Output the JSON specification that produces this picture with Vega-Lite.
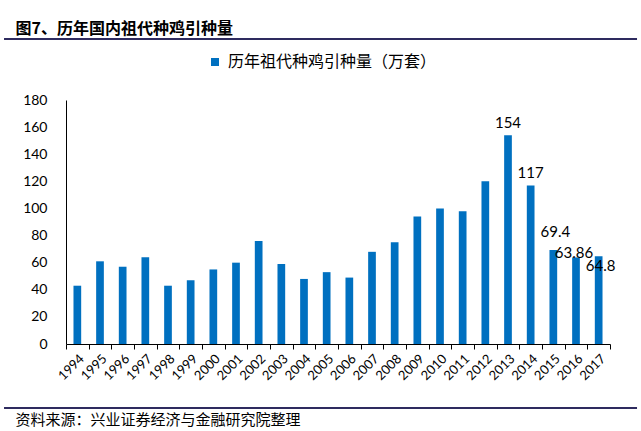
{
  "$schema": "https://vega.github.io/schema/vega-lite/v6.json",
  "autosize": "none",
  "width": 544,
  "height": 244,
  "padding": {"left": 66, "top": 100, "right": 31, "bottom": 87},
  "background": "white",
  "data": {
    "values": [
      {"year": "1994", "v": 43},
      {"year": "1995", "v": 61},
      {"year": "1996", "v": 57},
      {"year": "1997", "v": 64},
      {"year": "1998", "v": 43},
      {"year": "1999", "v": 47},
      {"year": "2000", "v": 55},
      {"year": "2001", "v": 60},
      {"year": "2002", "v": 76},
      {"year": "2003", "v": 59},
      {"year": "2004", "v": 48},
      {"year": "2005", "v": 53},
      {"year": "2006", "v": 49},
      {"year": "2007", "v": 68},
      {"year": "2008", "v": 75},
      {"year": "2009", "v": 94},
      {"year": "2010", "v": 100},
      {"year": "2011", "v": 98},
      {"year": "2012", "v": 120},
      {"year": "2013", "v": 154},
      {"year": "2014", "v": 117},
      {"year": "2015", "v": 69.4},
      {"year": "2016", "v": 63.86},
      {"year": "2017", "v": 64.8}
    ]
  },
  "layer": [
    {
      "encoding": {
        "x": {
          "field": "year",
          "type": "nominal",
          "scale": {"paddingInner": 0, "paddingOuter": 0},
          "axis": {
            "title": "资料来源：兴业证券经济与金融研究院整理",
            "titleFont": "Noto Sans CJK SC",
            "titleFontSize": 15,
            "titleFontWeight": "normal",
            "titleColor": "#000000",
            "titleAnchor": "start",
            "titleAlign": "left",
            "titleBaseline": "middle",
            "titleX": -51,
            "titleY": 75,
            "labelAngle": -45,
            "labelFont": "Lato",
            "labelFontSize": 13,
            "labelColor": "#000000",
            "labelPadding": 3,
            "tickBand": "extent",
            "tickSize": 5,
            "tickColor": "#000000",
            "domainColor": "#000000",
            "grid": false
          }
        },
        "y": {
          "field": "v",
          "type": "quantitative",
          "scale": {"domain": [0, 180], "nice": false},
          "axis": {
            "title": "图7、历年国内祖代种鸡引种量",
            "titleFont": "Noto Sans CJK SC",
            "titleFontSize": 16,
            "titleFontWeight": "bold",
            "titleColor": "#000000",
            "titleAngle": 0,
            "titleAlign": "left",
            "titleBaseline": "middle",
            "titleX": -51,
            "titleY": -72,
            "values": [0, 20, 40, 60, 80, 100, 120, 140, 160, 180],
            "labelOverlap": false,
            "ticks": false,
            "labelPadding": 19,
            "labelFont": "Lato",
            "labelFontSize": 14,
            "labelColor": "#000000",
            "domainColor": "#000000",
            "grid": false
          }
        }
      },
      "layer": [
        {
          "mark": {"type": "bar", "width": {"band": 0.34}},
          "encoding": {
            "color": {
              "datum": "历年祖代种鸡引种量（万套）",
              "type": "nominal",
              "scale": {"range": ["#0070c0"]},
              "legend": {
                "title": null,
                "orient": "none",
                "legendX": 141,
                "legendY": -46,
                "symbolType": "square",
                "symbolSize": 64,
                "symbolStrokeWidth": 0,
                "labelFont": "Noto Sans CJK SC",
                "labelFontSize": 16,
                "labelColor": "#000000",
                "labelOffset": 5,
                "labelLimit": 400
              }
            }
          }
        },
        {
          "transform": [{"filter": "datum.year == '2013' || datum.year == '2014'"}],
          "mark": {"type": "text", "baseline": "middle", "dy": -12, "font": "Lato", "fontSize": 15, "color": "#000000"},
          "encoding": {"text": {"field": "v", "type": "quantitative"}}
        },
        {
          "transform": [{"filter": "datum.year == '2015'"}],
          "mark": {"type": "text", "baseline": "middle", "dy": -18, "dx": 2, "font": "Lato", "fontSize": 15, "color": "#000000"},
          "encoding": {"text": {"field": "v", "type": "quantitative"}}
        },
        {
          "transform": [{"filter": "datum.year == '2016'"}],
          "mark": {"type": "text", "baseline": "middle", "dy": -4, "dx": -2, "font": "Lato", "fontSize": 15, "color": "#000000"},
          "encoding": {"text": {"field": "v", "type": "quantitative"}}
        },
        {
          "transform": [{"filter": "datum.year == '2017'"}],
          "mark": {"type": "text", "baseline": "middle", "dy": 10, "dx": 2, "font": "Lato", "fontSize": 15, "color": "#000000"},
          "encoding": {"text": {"field": "v", "type": "quantitative"}}
        }
      ]
    },
    {
      "data": {"values": [{"pos": "top"}, {"pos": "bottom"}]},
      "mark": {"type": "rule", "color": "#2e2b5f", "strokeWidth": 2},
      "encoding": {
        "x": {"datum": 0, "type": "quantitative", "scale": {"domain": [0.0979, 0.9573]}, "axis": null},
        "x2": {"datum": 1},
        "y": {
          "field": "pos",
          "type": "ordinal",
          "scale": {"type": "point", "domain": ["top", "bottom"], "range": [-61, 308], "padding": 0},
          "axis": null
        }
      }
    }
  ],
  "resolve": {"scale": {"x": "independent", "y": "independent"}, "axis": {"x": "independent", "y": "independent"}},
  "config": {
    "view": {"stroke": null}
  }
}
